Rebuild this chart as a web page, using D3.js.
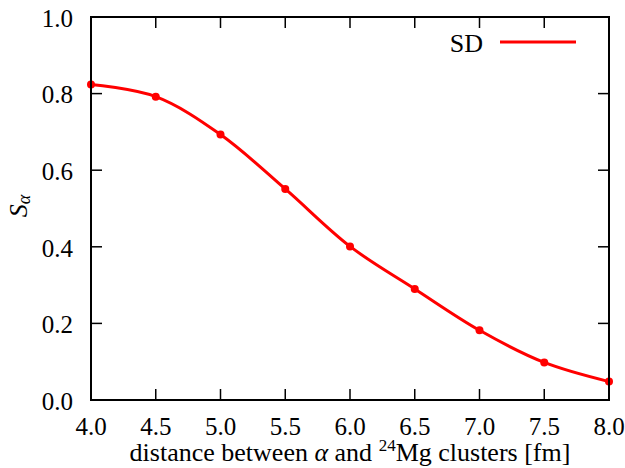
<!DOCTYPE html>
<html>
<head>
<meta charset="utf-8">
<script src="https://cdn.jsdelivr.net/npm/d3@7"></script>
<style>
  body { margin: 0; background: #fff; }
</style>
</head>
<body>
<div id="chart"></div>
<script>
const distance = [4.0, 4.5, 5.0, 5.5, 6.0, 6.5, 7.0, 7.5, 8.0]
const sdValues = [0.824, 0.792, 0.693, 0.551, 0.401, 0.290, 0.182, 0.098, 0.048]
const xTicks = [4.0, 4.5, 5.0, 5.5, 6.0, 6.5, 7.0, 7.5, 8.0]
const yTicks = [0.0, 0.2, 0.4, 0.6, 0.8, 1.0]

const W = 625, H = 468
const margin = { top: 17, right: 16, bottom: 68, left: 91 }
const width = W - margin.left - margin.right
const height = H - margin.top - margin.bottom
const tickLen = 11
const serif = `"Liberation Serif", "Times New Roman", serif`

const svg = d3.select("#chart").append("svg")
  .attr("width", W)
  .attr("height", H)

const g = svg.append("g")
  .attr("transform", `translate(${margin.left},${margin.top})`)

const x = d3.scaleLinear().domain([4, 8]).range([0, width])
const y = d3.scaleLinear().domain([0, 1]).range([height, 0])

// tick marks, inward on all four sides
const ticks = g.append("g").attr("stroke", "#000").attr("stroke-width", 1.5)
xTicks.forEach(t => {
  ticks.append("line").attr("x1", x(t)).attr("x2", x(t)).attr("y1", height).attr("y2", height - tickLen)
  ticks.append("line").attr("x1", x(t)).attr("x2", x(t)).attr("y1", 0).attr("y2", tickLen)
})
yTicks.forEach(t => {
  ticks.append("line").attr("x1", 0).attr("x2", tickLen).attr("y1", y(t)).attr("y2", y(t))
  ticks.append("line").attr("x1", width).attr("x2", width - tickLen).attr("y1", y(t)).attr("y2", y(t))
})

// tick labels
g.append("g").selectAll("text")
  .data(xTicks)
  .join("text")
  .attr("x", d => x(d))
  .attr("y", height + 35)
  .attr("text-anchor", "middle")
  .attr("font-size", 25)
  .style("font-family", serif)
  .text(d => d.toFixed(1))

g.append("g").selectAll("text")
  .data(yTicks)
  .join("text")
  .attr("x", -18)
  .attr("y", d => y(d) + 1)
  .attr("dy", "0.35em")
  .attr("text-anchor", "end")
  .attr("font-size", 25)
  .style("font-family", serif)
  .text(d => d.toFixed(1))

// axis labels
const xl = g.append("text")
  .attr("x", width / 2)
  .attr("y", height + 61)
  .attr("text-anchor", "middle")
  .attr("font-size", 26)
  .style("font-family", serif)
xl.append("tspan").text("distance between ")
xl.append("tspan").attr("font-style", "italic").text("α")
xl.append("tspan").text(" and ")
xl.append("tspan").attr("font-size", 17).attr("dy", -10).text("24")
xl.append("tspan").attr("dy", 10).text("Mg clusters [fm]")

const yl = svg.append("text")
  .attr("transform", `translate(27,206) rotate(-90)`)
  .attr("text-anchor", "middle")
  .attr("font-size", 26)
  .style("font-family", serif)
yl.append("tspan").attr("font-style", "italic").text("S")
yl.append("tspan").attr("font-style", "italic").attr("font-size", 18).attr("dy", 3).text("α")

// curve
const data = distance.map((d, i) => ({ x: d, y: sdValues[i] }))
const line = d3.line()
  .x(d => x(d.x))
  .y(d => y(d.y))
  .curve(d3.curveCatmullRom)

g.append("path")
  .datum(data)
  .attr("fill", "none")
  .attr("stroke", "#ff0000")
  .attr("stroke-width", 3)
  .attr("d", line)

g.append("g").selectAll("circle")
  .data(data)
  .join("circle")
  .attr("cx", d => x(d.x))
  .attr("cy", d => y(d.y))
  .attr("r", 4)
  .attr("fill", "#ff0000")

// frame
g.append("rect")
  .attr("width", width)
  .attr("height", height)
  .attr("fill", "none")
  .attr("stroke", "#000")
  .attr("stroke-width", 2)

// legend
g.append("text")
  .attr("x", 483 - margin.left)
  .attr("y", 52 - margin.top)
  .attr("text-anchor", "end")
  .attr("font-size", 26)
  .style("font-family", serif)
  .text("SD")
g.append("line")
  .attr("x1", 500 - margin.left)
  .attr("x2", 576 - margin.left)
  .attr("y1", 42 - margin.top)
  .attr("y2", 42 - margin.top)
  .attr("stroke", "#ff0000")
  .attr("stroke-width", 3)
</script>
</body>
</html>
